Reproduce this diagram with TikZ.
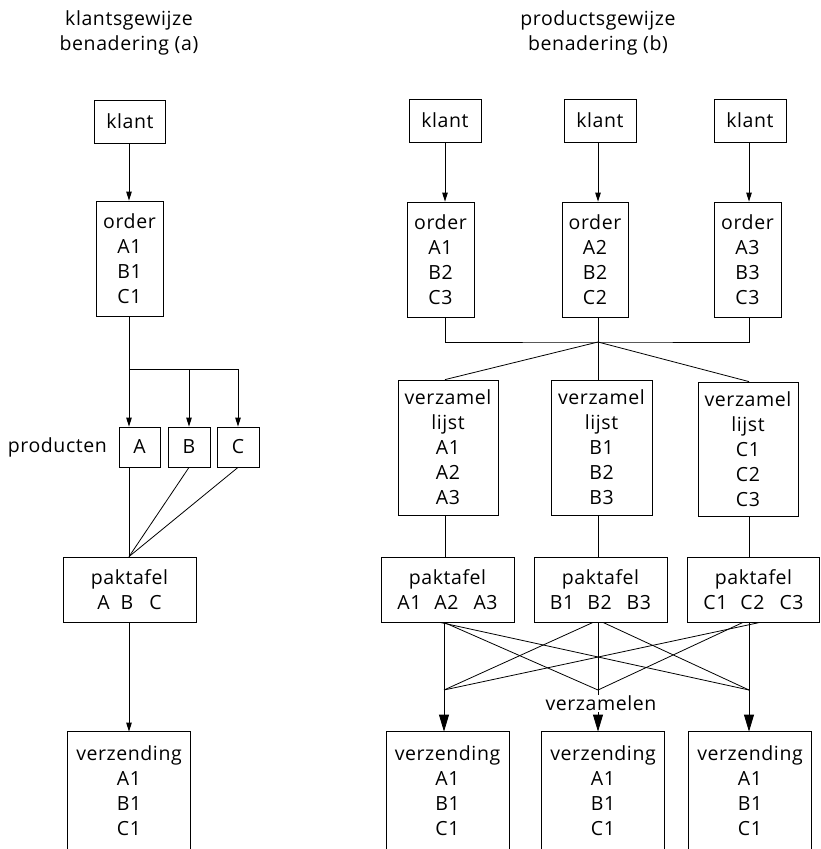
\documentclass[tikz,border=0pt]{standalone}
\usepackage{fontspec}
\setmainfont{Open Sans}[LetterSpace=3]
\usetikzlibrary{calc}
\usetikzlibrary{arrows.meta,positioning}

\begin{document}
\begin{tikzpicture}[x=1pt,y=-1pt,line width=0.8pt,>={Triangle[length=9pt,width=5.5pt]},font=\fontsize{19.5}{25}\selectfont]
      \tikzstyle{block}=[draw,rectangle,align=center,inner sep=0pt]
      \tikzstyle{openblock}=[rectangle,align=center,inner sep=0pt,minimum width=122pt,minimum height=117pt]
      \tikzstyle{big}=[-{Triangle[length=17pt,width=10pt]}]
      \useasboundingbox (0,0) rectangle (820,849);

      \node[align=center] (titleA) at (129,33) {klantsgewijze\\benadering (a)};
      \node[align=center] (titleB) at (598,33) {productsgewijze\\benadering (b)};

      \node[block,minimum width=71pt,minimum height=43pt] (klantA) at (130,121.5) {klant};
      \node[block,minimum width=67pt,minimum height=115pt] (orderA) at (129.5,258.5) {order\\A1\\B1\\C1};
      \coordinate (splitA) at (129,369);
      \node[block,minimum width=41pt,minimum height=40pt] (prodA) at (139.5,447) {A};
      \node[block,minimum width=42pt,minimum height=40pt] (prodB) at (189,447) {B};
      \node[block,minimum width=42pt,minimum height=40pt] (prodC) at (238,447) {C};
      \node[left=8pt of prodA] (producten) {producten};
      \node[block,minimum width=133pt,minimum height=65pt] (paktA) at (129.5,589.5) {paktafel\\A\hspace{11pt}B\hspace{16pt}C};
      \node[openblock] (verzA) at (129,790.5) {verzending\\A1\\B1\\C1};

      \draw[->] (klantA.south -| splitA)--(orderA.north -| splitA);
      \draw (orderA.south -| splitA)--(splitA);
      \draw[->] (splitA)--(prodA.north -| splitA);
      \draw[->] (splitA)-|(prodB);
      \draw[->] (splitA)-|(prodC);
      \draw (prodA.south -| splitA)--(paktA.north -| splitA);
      \draw (prodB.south)--(paktA.north -| splitA);
      \draw (prodC.south)--(paktA.north -| splitA);
      \draw[->] (paktA.south -| splitA)--(verzA.north -| splitA);
      \draw (verzA.south west) |- (verzA.north east)--(verzA.south east);

      \coordinate (c1) at (445,0);
      \coordinate (c2) at (598,0);
      \coordinate (c3) at (749,0);
      \coordinate (join) at (598,342);
      \coordinate (m1) at (444,690);
      \coordinate (m2) at (598,690);
      \coordinate (m3) at (749,690);

      \node[block,minimum width=72pt,minimum height=43pt] (klant1) at (445,120.5) {klant};
      \node[block,minimum width=72pt,minimum height=43pt] (klant2) at (600,120.5) {klant};
      \node[block,minimum width=72pt,minimum height=43pt] (klant3) at (750,120.5) {klant};

      \node[block,minimum width=67pt,minimum height=115pt] (order1) at (440.5,259.5) {order\\A1\\B2\\C3};
      \node[block,minimum width=66pt,minimum height=115pt] (order2) at (595,259.5) {order\\A2\\B2\\C2};
      \node[block,minimum width=67pt,minimum height=115pt] (order3) at (747.5,259.5) {order\\A3\\B3\\C3};

      \node[block,minimum width=100pt,minimum height=135pt] (verzamel1) at (448,447.5) {verzamel\\lijst\\A1\\A2\\A3};
      \node[block,minimum width=101pt,minimum height=135pt] (verzamel2) at (601.5,447.5) {verzamel\\lijst\\B1\\B2\\B3};
      \node[block,minimum width=100pt,minimum height=134pt] (verzamel3) at (748,449) {verzamel\\lijst\\C1\\C2\\C3};

      \node[block,minimum width=133pt,minimum height=65pt] (paktafel1) at (447.5,589.5) {paktafel\\A1\hspace{13pt}A2\hspace{15pt}A3};
      \node[block,minimum width=133pt,minimum height=65pt] (paktafel2) at (600.5,589.5) {paktafel\\B1\hspace{13pt}B2\hspace{15pt}B3};
      \node[block,minimum width=132pt,minimum height=65pt] (paktafel3) at (753.5,589.5) {paktafel\\C1\hspace{13pt}C2\hspace{15pt}C3};

      \node[openblock] (verzending1) at (447.5,790.5) {verzending\\A1\\B1\\C1};
      \node[openblock] (verzending2) at (603,790.5) {verzending\\A1\\B1\\C1};
      \node[openblock] (verzending3) at (750,790.5) {verzending\\A1\\B1\\C1};

      \draw[->] (klant1.south -| c1)--(order1.north -| c1);
      \draw[->] (klant2.south -| c2)--(order2.north -| c2);
      \draw[->] (klant3.south -| c3)--(order3.north -| c3);
      \draw (order1.south -| c1) |- (join) -| (order3.south -| c3);
      \draw (order2.south -| c2)--(join);
      \draw (join)--(verzamel1.north -| c1);
      \draw (join)--(verzamel2.north -| c2);
      \draw (join)--(verzamel3.north -| c3);
      \draw (verzamel1.south -| c1)--(paktafel1.north -| c1);
      \draw (verzamel2.south -| c2)--(paktafel2.north -| c2);
      \draw (verzamel3.south -| c3)--(paktafel3.north -| c3);

      \draw (paktafel1.south -| m1)--(m1);
      \draw (paktafel1.south -| m1)--(m2);
      \draw ($(paktafel1.south -| m1)+(-4,0)$)--(m3);
      \draw ($(paktafel2.south -| m2)+(-5,0)$)--(m1);
      \draw (paktafel2.south -| m2)--(m2);
      \draw ($(paktafel2.south -| m2)+(5,0)$)--(m3);
      \draw ($(paktafel3.south -| m3)+(11,0)$)--(m1);
      \draw ($(paktafel3.south -| m3)+(-6,0)$)--(m2);
      \draw (paktafel3.south -| m3)--(m3);

      \draw[big] (m1)--(verzending1.north -| m1);
      \draw[big] (m2)--(verzending2.north -| m2);
      \draw[big] (m3)--(verzending3.north -| m3);
      \node[fill=white,inner sep=1pt] (verzamelen) at (601,703) {verzamelen};

      \draw (verzending1.south west) |- (verzending1.north east)--(verzending1.south east);
      \draw (verzending2.south west) |- (verzending2.north east)--(verzending2.south east);
      \draw (verzending3.south west) |- (verzending3.north east)--(verzending3.south east);
    \end{tikzpicture}
\end{document}
